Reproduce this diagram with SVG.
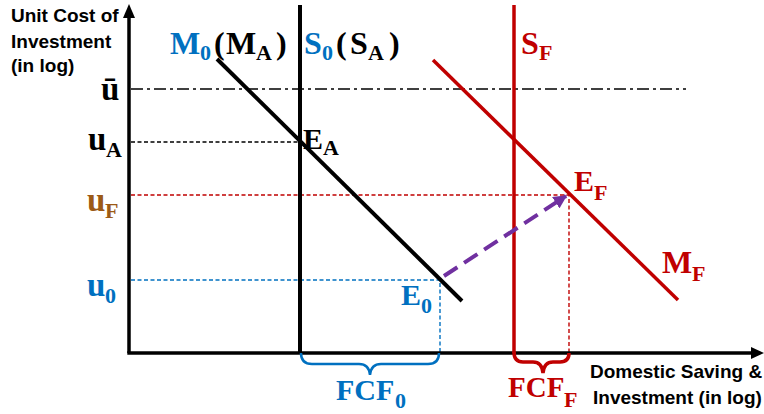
<svg xmlns="http://www.w3.org/2000/svg" width="764" height="414" viewBox="0 0 764 414">
<style>
.ax{stroke:#000;stroke-width:3.5;fill:none}
.blk{stroke:#000;stroke-width:4;fill:none}
.red{stroke:#C00000;stroke-width:3.5;fill:none}
.blu{stroke:#0070C0;stroke-width:2.5;fill:none}
.dsh{stroke-width:1.4;stroke-dasharray:4 2.5;fill:none}
.m{font-family:"Liberation Serif","DejaVu Serif",serif;font-weight:bold;font-size:32px}
.u{font-size:33px}
.e{font-size:30px}
.s{font-size:22px}
.t{font-family:"Liberation Sans",Arial,sans-serif;font-weight:bold;font-size:19px;fill:#000}
.cb{fill:#0070C0}.cr{fill:#C00000}.ck{fill:#000}.cn{fill:#9C5A16}
</style>
<defs>
<marker id="ah" viewBox="0 0 10 10" refX="9" refY="5" markerWidth="3.4" markerHeight="3.4" orient="auto"><path d="M0,0 L10,5 L0,10 z" fill="#7030A0"/></marker>
</defs>
<g id="guides">
<line x1="131" y1="89" x2="686" y2="89" stroke="#000" stroke-width="1.5" stroke-dasharray="12 4 3 4"/>
<line class="dsh" x1="131" y1="142" x2="300" y2="142" stroke="#000"/>
<polyline class="dsh" points="131,195 569,195 569,352" stroke="#C00000"/>
<polyline class="dsh" points="131,280 440,280 440,352" stroke="#0070C0"/>
</g>
<g id="axes">
<line class="ax" x1="129" y1="353" x2="129" y2="16"/>
<path d="M129,4 L135,18 L123,18 z" fill="#000"/>
<line class="ax" x1="127.3" y1="353" x2="752" y2="353"/>
<path d="M764,353 L751,347 L751,359 z" fill="#000"/>
</g>
<g id="curves">
<line id="S0" class="blk" x1="300" y1="5" x2="300" y2="353"/>
<line id="M0" class="blk" x1="217" y1="59" x2="462" y2="301"/>
<line id="SF" class="red" x1="514" y1="5" x2="514" y2="353"/>
<line id="MF" class="red" x1="433" y1="60" x2="678" y2="300"/>
</g>
<g id="connectors">
<line x1="444" y1="276" x2="566" y2="196" stroke="#7030A0" stroke-width="4" stroke-dasharray="16 8" marker-end="url(#ah)"/>
</g>
<g id="braces">
<path class="blu" d="M301,353 Q301,364 312,364 L359,364 Q369,364 370,375 Q371,364 381,364 L428,364 Q439,364 439,353"/>
<path class="red" stroke-width="2.5" d="M514,352 Q514,362 523,362 L533,362 Q542,362 543,373 Q544,362 553,362 L560,362 Q569,362 569,353"/>
</g>
<g id="axis-titles">
<text class="t" x="11" y="22">Unit Cost of</text>
<text class="t" x="11" y="48">Investment</text>
<text class="t" x="11" y="72">(in log)</text>
<text class="t" x="590" y="378">Domestic Saving &amp;</text>
<text class="t" x="593" y="404">Investment (in log)</text>
</g>
<g id="y-labels">
<text class="m u ck" x="101" y="100">ū</text>
<text class="m u ck" y="150"><tspan x="88">u</tspan><tspan class="s" x="106" dy="7">A</tspan></text>
<text class="m u cn" y="211"><tspan x="87">u</tspan><tspan class="s" x="105" dy="7">F</tspan></text>
<text class="m u cb" y="296"><tspan x="87">u</tspan><tspan class="s" x="105" dy="7">0</tspan></text>
</g>
<g id="curve-labels">
<text class="m" y="54"><tspan class="cb" x="170">M</tspan><tspan class="s cb" x="200" dy="6">0</tspan><tspan class="ck" x="214" dy="-6">(</tspan><tspan class="ck" x="226">M</tspan><tspan class="s ck" x="256" dy="6">A</tspan><tspan class="ck" x="276" dy="-6">)</tspan></text>
<text class="m" y="54"><tspan class="cb" x="304">S</tspan><tspan class="s cb" x="322" dy="6">0</tspan><tspan class="ck" x="336" dy="-6">(</tspan><tspan class="ck" x="350">S</tspan><tspan class="s ck" x="368" dy="6">A</tspan><tspan class="ck" x="389" dy="-6">)</tspan></text>
<text class="m cr" y="54"><tspan x="521">S</tspan><tspan class="s" x="539" dy="6">F</tspan></text>
<text class="m cr" y="273"><tspan x="662">M</tspan><tspan class="s" x="692" dy="8">F</tspan></text>
</g>
<g id="points">
<text class="m e ck" y="149"><tspan x="303">E</tspan><tspan class="s" x="323" dy="6">A</tspan></text>
<text class="m e cb" y="305"><tspan x="401">E</tspan><tspan class="s" x="421" dy="8">0</tspan></text>
<text class="m e cr" y="191"><tspan x="574">E</tspan><tspan class="s" x="594" dy="9">F</tspan></text>
</g>
<g id="brace-labels">
<text class="m e cb" y="400"><tspan x="336">FCF</tspan><tspan class="s" x="395" dy="8">0</tspan></text>
<text class="m cr" y="397" style="font-size:29px"><tspan x="508">FCF</tspan><tspan class="s" x="564" dy="10">F</tspan></text>
</g>
</svg>
